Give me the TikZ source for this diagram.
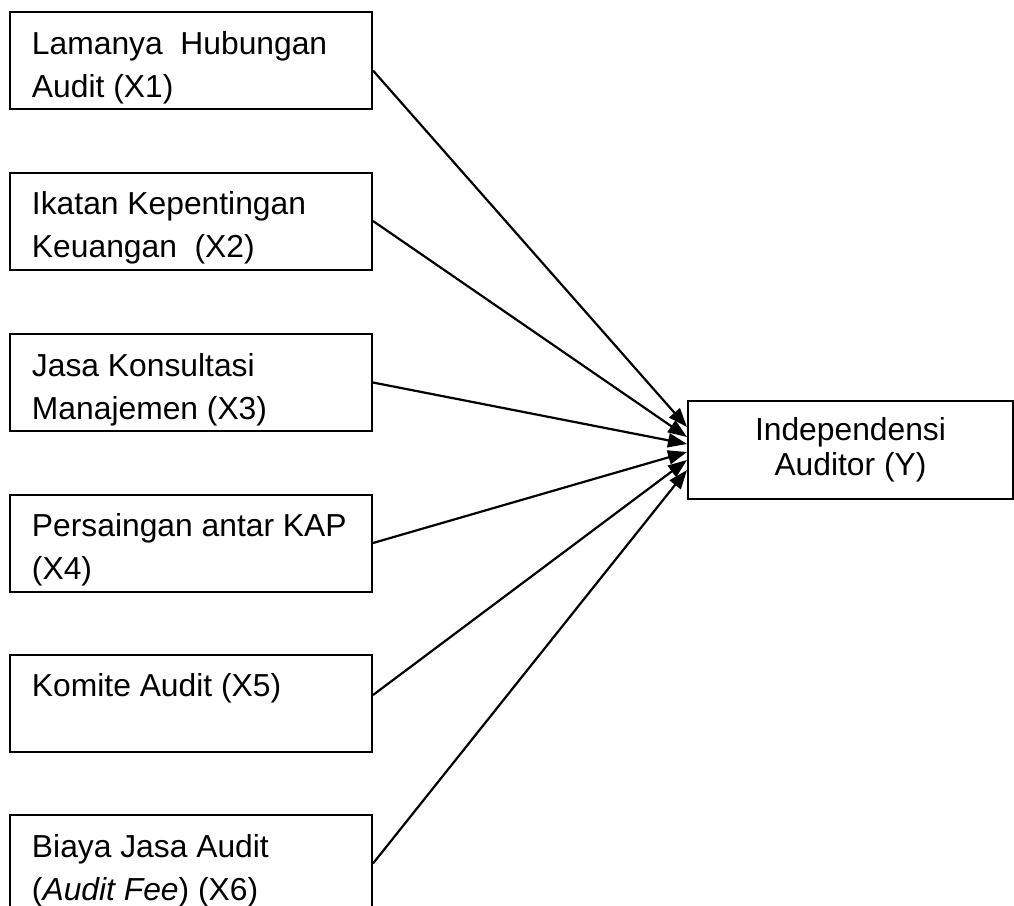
\documentclass[tikz,border=0pt]{standalone}
\usepackage{fontspec}
\setmainfont{Liberation Sans}
\usetikzlibrary{arrows.meta, positioning}
\tikzstyle{xbox} = [rectangle, draw, line width=1pt, text width=159pt, inner xsep=11pt, inner ysep=0pt, minimum height=48.5pt, align=left, font=\fontsize{15.9}{21.3}\selectfont, execute at begin node={\spaceskip=0pt\xspaceskip=0pt\rule{0pt}{18.5pt}}]
\tikzstyle{ybox} = [rectangle, draw, line width=1pt, minimum width=162.5pt, minimum height=49pt, align=center, font=\fontsize{15.9}{17.5}\selectfont, execute at begin node={\spaceskip=0pt\xspaceskip=0pt}]
\tikzstyle{line} = [draw, line width=1.1pt, -{Triangle[length=9.5pt,width=7pt]}]

\begin{document}
\begin{tikzpicture}[x=0.5pt, y=-0.5pt]
			\clip (0,0) rectangle (1014,906);
			\node [xbox] (x1) at (191, 60.5) {Lamanya~ Hubungan\\Audit (X1)};
			\node [xbox] (x2) at (191, 221) {Ikatan Kepentingan\\Keuangan~ (X2)};
			\node [xbox] (x3) at (191, 382.5) {Jasa Konsultasi\\Manajemen (X3)};
			\node [xbox] (x4) at (191, 543) {Persaingan antar KAP\\(X4)};
			\node [xbox] (x5) at (191, 703) {Komite Audit (X5)\\\phantom{(}};
			\node [xbox] (x6) at (191, 863.5) {Biaya Jasa Audit\\(\textit{Audit Fee}) (X6)};
			\node [ybox] (y) at (850.5, 450) {Independensi\\Auditor (Y)};
			
			\path [line] ([yshift=-5pt]x1.east) -- ([yshift=11.5pt]y.west);
			\path [line] (x2.east) -- ([yshift=6.5pt]y.west);
			\path [line] (x3.east) -- ([yshift=3pt]y.west);
			\path [line] (x4.east) -- ([yshift=-1pt]y.west);
			\path [line] ([yshift=4pt]x5.east) -- ([yshift=-5pt]y.west);
			\path [line] (x6.east) -- ([yshift=-10pt]y.west);
		\end{tikzpicture}
\end{document}
